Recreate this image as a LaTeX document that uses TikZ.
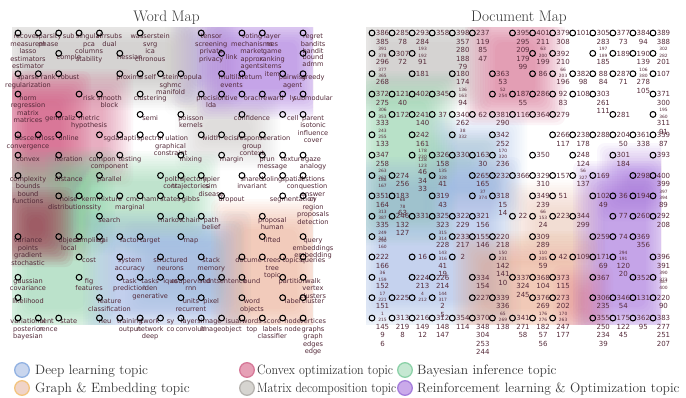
\documentclass[tikz,border=0pt]{standalone}
\usepackage{fontspec}
\newfontfamily\labfont{DejaVu Sans}
\definecolor{labc}{RGB}{82,40,55}
\definecolor{numc}{RGB}{88,45,60}
\definecolor{cpink}{RGB}{214,92,132}
\definecolor{cgreen}{RGB}{120,205,152}
\definecolor{cblue}{RGB}{140,170,226}
\definecolor{cpeach}{RGB}{236,160,126}
\definecolor{cpurple}{RGB}{160,105,222}
\definecolor{cgrey}{RGB}{165,160,156}
\definecolor{cbrown}{RGB}{158,64,80}
\definecolor{txtc}{RGB}{55,55,55}
\definecolor{lgbf}{RGB}{201,214,238}\definecolor{lgbd}{RGB}{146,178,226}
\definecolor{lgpf}{RGB}{230,160,182}\definecolor{lgpd}{RGB}{214,120,152}
\definecolor{lggf}{RGB}{197,232,210}\definecolor{lggd}{RGB}{140,210,168}
\definecolor{lgef}{RGB}{240,212,200}\definecolor{lged}{RGB}{243,196,126}
\definecolor{lgmf}{RGB}{214,212,208}\definecolor{lgmd}{RGB}{182,179,175}
\definecolor{lgrf}{RGB}{202,170,234}\definecolor{lgrd}{RGB}{165,125,220}
\newcommand\tlft[2]{\setbox0\hbox{#1}\makebox[\wd0][l]{#2}}
\newcommand\trgt[2]{\setbox0\hbox{#1}\makebox[\wd0][r]{#2}}
\newcommand\sq[2]{\smash{\raisebox{-1pt}{\fontsize{4.4}{4.6}\selectfont\shortstack{#1\\#2}}}}
\newcommand\blob[6]{\foreach \k in {0,...,12}{\fill[#1,fill opacity=#6,rounded corners=8pt] ({#2+15-2.5*\k},{#3+15-2.5*\k}) rectangle ({#4-15+2.5*\k},{#5-15+2.5*\k});}}
\begin{document}
\begin{tikzpicture}[x=1pt,y=-1pt,
  ring/.style={circle,draw=black,line width=1.05pt,minimum size=5.8pt,inner sep=0pt},
  wlab/.style={font=\labfont\fontsize{6.6}{7.5}\selectfont,text=labc,align=center,inner sep=0pt,anchor=north},
  dlab/.style={font=\labfont\fontsize{7}{8.5}\selectfont,text=numc,align=center,inner sep=0pt,anchor=north},
  ttl/.style={font=\fontsize{15.3}{18}\selectfont,text=txtc,inner sep=0pt},
  lgt/.style={font=\fontsize{13.5}{16}\selectfont,text=txtc,inner sep=0pt,anchor=base west},
  lgc/.style={circle,minimum size=14.6pt,inner sep=0pt,line width=1.3pt}]
\fill[white] (0,0) rectangle (686,397);
\useasboundingbox (0,0) rectangle (686,397);
% ---------- Word map backgrounds
\begin{scope}
\clip (12,27) rectangle (313,324);
\blob{cgrey}{12}{27}{188}{95}{0.04}
\blob{cgrey}{180}{27}{218}{100}{0.021}
\blob{cgrey}{190}{105}{265}{155}{0.026}
\blob{cpurple}{212}{27}{312}{104}{0.062}
\blob{cpurple}{186}{27}{228}{92}{0.028}
\blob{cpink}{12}{84}{118}{172}{0.048}
\blob{cpink}{12}{86}{76}{246}{0.07}
\blob{cgreen}{12}{162}{100}{324}{0.047}
\blob{cgreen}{60}{166}{205}{240}{0.045}
\blob{cblue}{98}{226}{236}{324}{0.05}
\blob{cblue}{140}{236}{232}{302}{0.028}
\blob{cpeach}{226}{214}{312}{324}{0.05}
\blob{cbrown}{14}{202}{58}{252}{0.085}
\end{scope}
% ---------- Document map backgrounds
\begin{scope}
\clip (366,27) rectangle (661,324);
\blob{cgrey}{366}{27}{476}{96}{0.04}
\blob{cpink}{480}{27}{550}{110}{0.063}
\blob{cgreen}{366}{86}{442}{230}{0.05}
\blob{cgreen}{430}{145}{486}{180}{0.028}
\blob{cblue}{366}{172}{506}{315}{0.048}
\blob{cblue}{438}{128}{512}{206}{0.035}
\blob{cpeach}{468}{246}{590}{324}{0.053}
\blob{cpeach}{520}{195}{592}{252}{0.028}
\blob{cpurple}{588}{176}{661}{322}{0.063}
\blob{cpurple}{612}{158}{661}{206}{0.049}
\blob{cpink}{568}{280}{598}{322}{0.035}
\end{scope}
% ---------- Titles
\node[ttl,anchor=base] (t1) at (166.5,21.5) {Word Map};
\node[ttl,anchor=base] (t2) at (519,21.5) {Document Map};
% ---------- Word map
\foreach \ci/\ri/\tx in {
0/0/{\tlft{recovery}{recove}\\measurem\\lasso\\estimators\\estimator},
1/0/{sparsity\\phase},
2/0/{sub},
3/0/{singular\\pca\\columns\\stability},
4/0/{rirrsubs\\dual},
6/0/{wasserstein\\svrg\\ica\\chronous},
9/0/{tensor\\screening\\private\\privacy},
11/0/{voting\\mechanisms\\market\\approx\\agents},
12/0/{layer\\nes\\game\\ranking\\items\\item},
14/0/{regret\\bandits\\bandit},
2/1/{comple},
5/1/{hessian},
10/1/{link},
14/1/{bound\\admm},
0/2/{sparse\\regularization},
1/2/{rank},
2/2/{robust},
5/2/{proxima},
6/2/{self},
7/2/{stein\\sghmc\\manifold},
8/2/{copula},
10/2/{multilat\\events},
11/2/{return},
13/2/{pairwise\\agent},
14/2/{greedy},
0/3/{norm\\regression\\matrix\\matrices},
3/3/{risk},
4/3/{smooth\\block},
6/3/{clustering},
9/3/{precision\\lda},
10/3/{tive},
11/3/{oracl},
12/3/{reward},
13/3/{ly},
14/3/{submodular},
2/4/{\tlft{generalization}{generaliz}},
3/4/{metric\\hypothesis},
6/4/{semi},
8/4/{poisson\\kernels},
11/4/{confidence},
13/4/{cell},
14/4/{parent\\isotonic\\influence\\cover},
0/5/{descent\\convergence},
1/5/{loss},
2/5/{online},
4/5/{sgd},
5/5/{\tlft{adaptive}{adapti}},
6/5/{spectral},
7/5/{\trgt{population}{ulation}\\graphical\\constraint},
9/5/{width},
10/5/{ecisi},
11/5/{response\\group\\context},
12/5/{\trgt{generation}{eration}},
0/6/{convex},
2/6/{iteration},
4/6/{\tlft{components}{compon}\\component},
5/6/{testing},
8/6/{mixing},
10/6/{margin},
12/6/{\tlft{pruning}{prun}\\message},
13/6/{texture},
14/6/{gaze\\analogy},
0/7/{complexity\\bounds\\bound\\functions},
2/7/{distance},
4/7/{parallel},
7/7/{poli\\cont},
8/7/{trajectory\\trajectories},
9/7/{npier\\sim\\disease},
11/7/{shared\\invariant},
12/7/{ooling},
13/7/{spatial\\con},
14/7/{estions\\question\\answer},
2/8/{noise\\distributions},
3/8/{kern\\\trgt{density}{sity}},
4/8/{mixture},
5/8/{\trgt{mcmc}{cmc}\\marginal},
6/8/{nami},
7/8/{states},
8/8/{gibbs},
10/8/{dropout},
13/8/{segmentation},
14/8/{cy\\region\\proposals\\detection},
4/9/{search},
7/9/{markov},
8/9/{chain},
9/9/{path\\belief},
12/9/{proposal\\human},
0/10/{variance\\points\\gradient\\stochastic},
2/10/{object\\local},
3/10/{sampling},
4/10/{\tlft{training}{trai}},
5/10/{factor},
6/10/{target},
8/10/{map},
12/10/{lifted},
14/10/{query\\embeddings\\embedding},
3/11/{cost},
5/11/{system\\accuracy},
7/11/{structured\\neurons},
9/11/{stack\\memory},
11/11/{\tlft{document}{docume}},
12/11/{trees\\tree\\topic},
13/11/{topics},
14/11/{queries},
0/12/{gaussian\\covariance},
3/12/{fig\\features},
5/12/{task\\prediction},
6/12/{tasks\\iden\\generative},
7/12/{ique},
8/12/{esupervised\\rnn},
9/12/{dnt},
10/12/{sentence},
11/12/{ound},
13/12/{partition},
14/12/{walk\\vertex\\clusters},
0/13/{likelihood},
4/13/{feature\\classification},
8/13/{units\\recurrent},
9/13/{pixel},
11/13/{word\\objects},
13/13/{label},
14/13/{cluster},
0/14/{variational\\posterior\\bayesian},
1/14/{ent\\rence},
2/14/{state},
4/14/{\tlft{neural}{neu}},
5/14/{training\\output},
6/14/{twork\\network\\deep},
7/14/{sy\\co},
8/14/{layers\\convoluti},
9/14/{image\\image},
10/14/{\trgt{visual}{isual}\\object},
11/14/{words\\top},
12/14/{score\\labels\\classifier},
13/14/{node\\node},
14/14/{vertices\\graphs\\graph\\edges\\edge}}{
  \pgfmathsetmacro\px{18+20.36*\ci}
  \pgfmathsetmacro\py{33+20.36*\ri}
  \node[wlab] (wl\ci-\ri) at (\px+10,\py+0.5) {\strut\tx};
  \node[ring] (wc\ci-\ri) at (\px,\py) {};
}
% ---------- Document map
\foreach \ci/\ri/\tx in {
0/0/{386\\385}, 1/0/{285\\78}, 2/0/{293\\284}, 3/0/{358}, 4/0/{398\\357\\280\\188\\79}, 5/0/{237\\119\\85\\47}, 7/0/{395\\295\\209\\179\\99}, 8/0/{401\\211}, 9/0/{379\\308}, 10/0/{101}, 11/0/{305\\283}, 12/0/{377\\73}, 13/0/{384\\94}, 14/0/{389\\388},
0/1/{\sq{391}{378}\\296}, 1/1/{307\\72}, 2/1/{\sq{193}{192}\\91}, 8/1/{\sq{63}{200}\\199}, 9/1/{392\\210}, 11/1/{\sq{197}{189}\\185}, 12/1/{189}, 13/1/{190\\139}, 14/1/{\sq{302}{282}\\201},
0/2/{\sq{377}{365}\\268}, 2/2/{181}, 4/2/{180\\174}, 6/2/{363\\53}, 8/2/{86}, 9/2/{\sq{66}{203}\\196}, 10/2/{382\\98}, 11/2/{88\\84}, 12/2/{287\\71}, 13/2/{\sq{106}{380}\\278\\105}, 14/2/{107},
0/3/{372\\275}, 1/3/{121\\40}, 2/3/{402}, 3/3/{345}, 4/3/{\sq{136}{163}\\94}, 6/3/{\sq{52}{254}}, 7/3/{187\\55}, 8/3/{286}, 9/3/{92\\83}, 10/3/{108}, 11/3/{303\\261\\111}, 14/3/{371\\300},
0/4/{\sq{306}{353}\\333}, 1/4/{172}, 2/4/{241\\140}, 3/4/{37}, 4/4/{340\\262}, 5/4/{62}, 6/4/{381\\290}, 7/4/{116}, 8/4/{364}, 9/4/{279}, 12/4/{281}, 14/4/{\sq{195}{360}\\311\\91},
0/5/{\sq{243}{255}\\133}, 2/5/{242\\161}, 4/5/{\sq{38}{332}}, 6/5/{342\\252}, 9/5/{266\\117}, 10/5/{238\\178}, 11/5/{288}, 12/5/{204\\50}, 13/5/{361\\338}, 14/5/{359\\87},
0/6/{347\\258}, 2/6/{\sq{178}{230}\\\sq{128}{123}\\46\\34\\33}, 3/6/{326\\158}, 4/6/{330}, 5/6/{163\\30}, 6/6/{\sq{170}{320}\\236}, 8/6/{350}, 10/6/{248\\124}, 12/6/{301\\184}, 14/6/{393},
0/7/{\sq{263}{267}\\\sq{188}{167}}, 1/7/{274\\256}, 3/7/{\sq{135}{328}\\41}, 5/7/{265\\165}, 6/7/{232}, 7/7/{366}, 8/7/{329\\310}, 9/7/{157}, 10/7/{\sq{56}{327}\\137}, 11/7/{169}, 13/7/{298}, 14/7/{400\\399},
0/8/{351\\164}, 1/8/{183\\\sq{68}{78}\\63}, 3/8/{319\\43}, 5/8/{\sq{37}{374}}, 6/8/{318\\15\\14}, 8/8/{349\\239}, 9/8/{51}, 11/8/{102\\49}, 12/8/{36}, 13/8/{194}, 14/8/{\sq{397}{394}\\89},
0/9/{\sq{313}{387}\\335}, 1/9/{246\\132\\127}, 2/9/{331}, 3/9/{325\\323}, 4/9/{322\\229}, 5/9/{321\\156}, 7/9/{22}, 8/9/{\sq{66}{153}\\24}, 9/9/{223}, 10/9/{344\\299}, 12/9/{77}, 13/9/{260}, 14/9/{292\\208},
0/10/{\sq{249}{343}\\\sq{290}{160}}, 3/10/{\sq{315}{314}\\228}, 4/10/{233\\217}, 5/10/{155\\146}, 6/10/{220\\218}, 8/10/{309\\289}, 11/10/{259}, 12/10/{74}, 13/10/{369\\356},
0/11/{222\\166}, 2/11/{16}, 3/11/{\sq{143}{316}\\41\\19}, 4/11/{2}, 6/11/{\sq{150}{231}\\142\\141\\10}, 8/11/{\sq{110}{205}\\59}, 9/11/{42}, 10/11/{109}, 11/11/{171\\69}, 12/11/{\sq{294}{191}\\120\\20}, 14/11/{396\\391},
0/12/{\sq{36}{159}\\152}, 2/12/{224\\213}, 3/12/{226\\214}, 5/12/{334\\154}, 7/12/{337\\324\\245}, 8/12/{368\\104}, 9/12/{373\\115}, 11/12/{367}, 13/12/{352}, 14/12/{\sq{390}{373}\\\sq{387}{400}},
0/13/{\sq{17}{221}\\151}, 1/13/{225}, 2/13/{\sq{4}{212}}, 3/13/{\sq{144}{317}\\2\\5}, 5/13/{227}, 6/13/{339\\336}, 8/13/{376\\269}, 9/13/{273\\202}, 11/13/{306\\235}, 12/13/{346\\54}, 13/13/{131}, 14/13/{220\\90},
0/14/{\sq{1}{215}\\145\\9\\6}, 1/14/{313\\219\\8}, 2/14/{216\\149\\12}, 3/14/{312\\148\\147}, 4/14/{354\\114}, 5/14/{370\\348\\304\\253\\244}, 6/14/{\sq{65}{269}\\138}, 7/14/{341\\271\\58}, 8/14/{\sq{176}{276}\\182\\57\\56}, 9/14/{\sq{170}{263}\\247\\177}, 11/14/{355\\250\\234\\39}, 12/14/{175\\122\\45}, 13/14/{362\\95}, 14/14/{383\\277\\251\\207}}{
  \pgfmathsetmacro\px{372+20.07*\ci}
  \pgfmathsetmacro\py{33+20.36*\ri}
  \node[dlab] (dl\ci-\ri) at (\px+10.5,\py-3.4) {\strut\tx};
  \node[ring] (dc\ci-\ri) at (\px,\py) {};
}
% ---------- Legend
\node[lgc,fill=lgbf,draw=lgbd] (lg1) at (22,370) {};
\node[lgt] (lt1) at (35,374.3) {Deep learning topic};
\node[lgc,fill=lgpf,draw=lgpd] (lg2) at (247,370) {};
\node[lgt] (lt2) at (257,374.3) {\scalebox{0.89}[1]{Convex optimization topic}};
\node[lgc,fill=lggf,draw=lggd] (lg3) at (405,370) {};
\node[lgt] (lt3) at (417,374.3) {Bayesian inference topic};
\node[lgc,fill=lgef,draw=lged] (lg4) at (22,388) {};
\node[lgt] (lt4) at (35,392.5) {Graph \& Embedding topic};
\node[lgc,fill=lgmf,draw=lgmd] (lg5) at (247,388) {};
\node[lgt] (lt5) at (257,392.5) {\scalebox{0.87}[1]{Matrix decomposition topic}};
\node[lgc,fill=lgrf,draw=lgrd] (lg6) at (405,388) {};
\node[lgt] (lt6) at (417,392.5) {Reinforcement learning \& Optimization topic};
\end{tikzpicture}
\end{document}
